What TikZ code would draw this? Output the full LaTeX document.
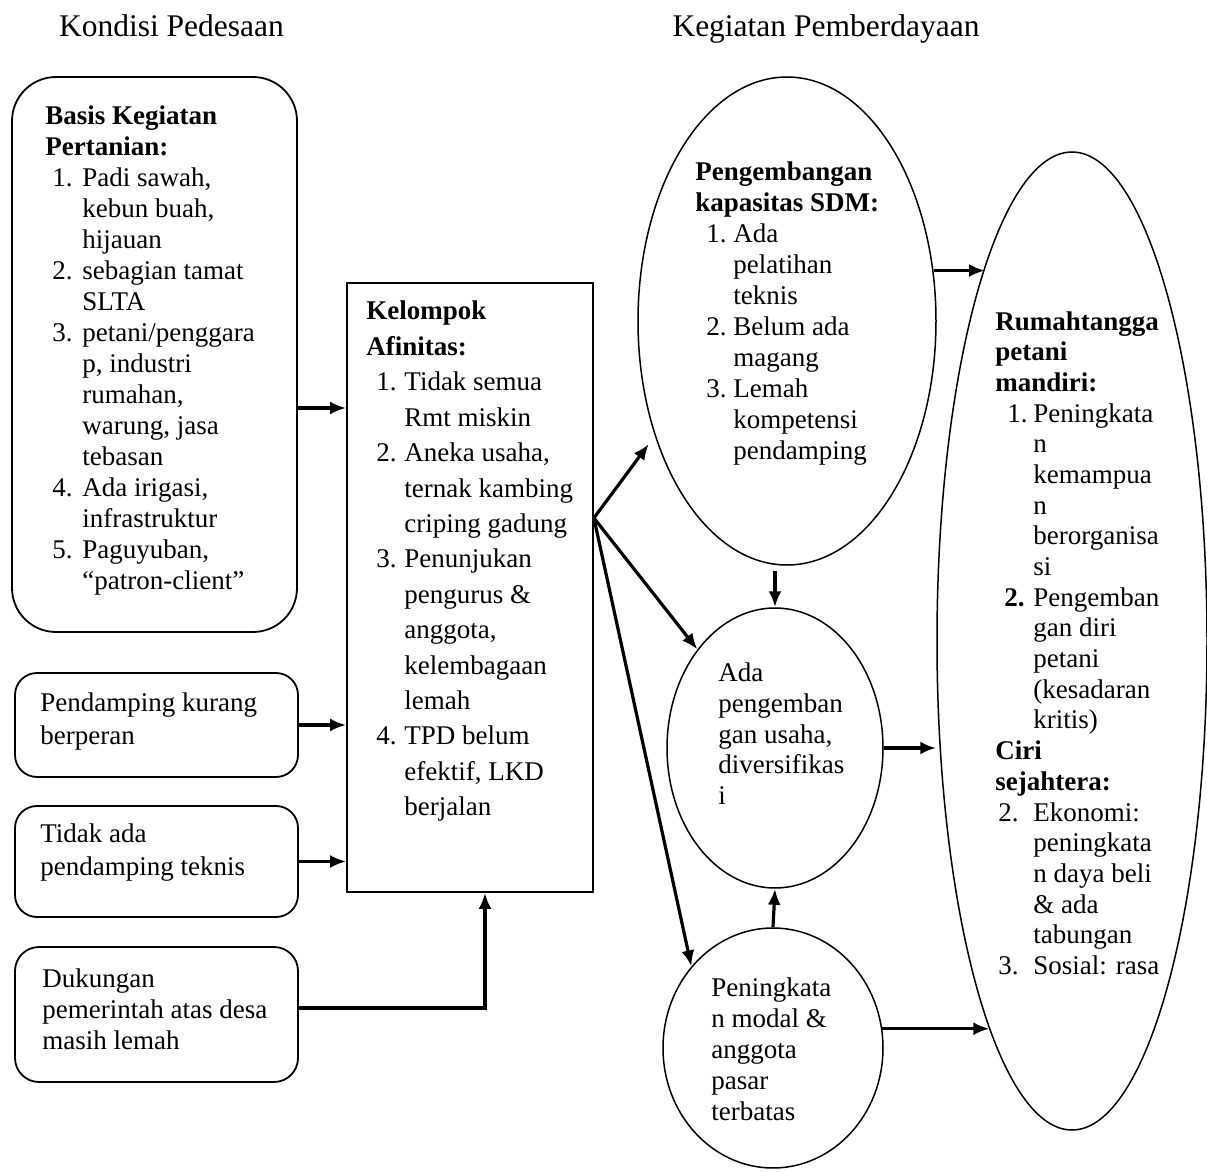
\documentclass[tikz,border=0pt]{standalone}
\usepackage{fontspec}
\setmainfont{Liberation Serif}
\usetikzlibrary{arrows.meta,shapes.geometric}
\newcommand{\hd}[1]{\multicolumn{2}{@{}l@{}}{\textbf{#1}}}
\begin{document}
\begin{tikzpicture}[x=0.5pt, y=-0.5pt,
        font = \fontsize{13.5}{15.5}\selectfont,
        kotak/.style = {draw, line width = 0.9pt, inner sep = 0pt},
        elips/.style = {draw, ellipse, line width = 0.75pt, inner sep = 0pt},
        teks/.style = {anchor = base west, inner sep = 0pt},
        judul/.style = {anchor = base, inner sep = 0pt, font = \fontsize{15.75}{18}\selectfont},
        panah/.style = {-{Latex[length = 8pt, width = 6.5pt]}, line width = 1.6pt}
    ]
    \useasboundingbox (0,0) rectangle (1207,1172);

    \node[judul] (t1) at (171.5,37) {Kondisi Pedesaan};
    \node[judul] (t2) at (826,37) {Kegiatan Pemberdayaan};

    % kondisi pedesaan
    \node[kotak, rounded corners = 22pt, minimum width = 142.5pt, minimum height = 277.5pt] (b1) at (154.5,354.5) {};
    \node[kotak, rounded corners = 11pt, minimum width = 141.5pt, minimum height = 52pt] (b2) at (156.5,725) {};
    \node[kotak, rounded corners = 11pt, minimum width = 141.5pt, minimum height = 55.5pt] (b3) at (156.5,861.5) {};
    \node[kotak, rounded corners = 12pt, minimum width = 141.5pt, minimum height = 67.5pt] (b4) at (156.5,1014.5) {};
    \node[kotak, minimum width = 123pt, minimum height = 304.5pt] (kel) at (470,587.5) {};

    \node[teks] (tb1) at (45,125) {\begin{tabular}[t]{@{\hspace{3.5pt}}l@{\hspace{4.9pt}}l@{}}
        \hd{Basis Kegiatan}\\
        \hd{Pertanian:}\\
        1. & Padi sawah,\\
           & kebun buah,\\
           & hijauan\\
        2. & sebagian tamat\\
           & SLTA\\
        3. & petani/penggara\\
           & p, industri\\
           & rumahan,\\
           & warung, jasa\\
           & tebasan\\
        4. & Ada irigasi,\\
           & infrastruktur\\
        5. & Paguyuban,\\
           & “patron-client”
    \end{tabular}};
    \node[teks] (tb2) at (40,711) {\renewcommand{\arraystretch}{1.065}\begin{tabular}[t]{@{}l@{}}
        Pendamping kurang\\ berperan
    \end{tabular}};
    \node[teks] (tb3) at (40,842) {\renewcommand{\arraystretch}{1.065}\begin{tabular}[t]{@{}l@{}}
        Tidak ada\\ pendamping teknis
    \end{tabular}};
    \node[teks] (tb4) at (42,987) {\begin{tabular}[t]{@{}l@{}}
        Dukungan\\ pemerintah atas desa\\ masih lemah
    \end{tabular}};
    \node[teks] (tkel) at (366,320) {\renewcommand{\arraystretch}{1.142}\begin{tabular}[t]{@{\hspace{5pt}}l@{\hspace{3.9pt}}l@{}}
        \hd{Kelompok}\\
        \hd{Afinitas:}\\
        1. & Tidak semua\\
           & Rmt miskin\\
        2. & Aneka usaha,\\
           & ternak kambing\\
           & criping gadung\\
        3. & Penunjukan\\
           & pengurus \&\\
           & anggota,\\
           & kelembagaan\\
           & lemah\\
        4. & TPD belum\\
           & efektif, LKD\\
           & berjalan
    \end{tabular}};

    % kegiatan pemberdayaan
    \node[elips, minimum width = 149pt, minimum height = 244pt] (e1) at (787,321) {};
    \node[elips, minimum width = 108pt, minimum height = 140pt] (c2) at (775,748) {};
    \node[elips, minimum width = 110pt, minimum height = 120pt] (c3) at (773,1048) {};
    \node[elips, minimum width = 135pt, minimum height = 489pt] (rm) at (1072,641) {};

    \node[teks] (te1) at (695,181) {\begin{tabular}[t]{@{\hspace{5.5pt}}l@{\hspace{3.4pt}}l@{}}
        \hd{Pengembangan}\\
        \hd{kapasitas SDM:}\\
        1. & Ada\\
           & pelatihan\\
           & teknis\\
        2. & Belum ada\\
           & magang\\
        3. & Lemah\\
           & kompetensi\\
           & pendamping
    \end{tabular}};
    \node[teks] (tc2) at (718,681) {\begin{tabular}[t]{@{}l@{}}
        Ada\\ pengemban\\ gan usaha,\\ diversifikas\\ i
    \end{tabular}};
    \node[teks] (tc3) at (711,996) {\begin{tabular}[t]{@{}l@{}}
        Peningkata\\ n modal \&\\ anggota\\ pasar\\ terbatas
    \end{tabular}};
    \node[teks] (trm) at (995,330) {\renewcommand{\arraystretch}{0.99}\begin{tabular}[t]{@{}l@{\hspace{2.9pt}}l@{}}
        \hd{Rumahtangga}\\
        \hd{petani}\\
        \hd{mandiri:}\\
        \hspace*{6pt}1. & Peningkata\\
           & n\\
           & kemampua\\
           & n\\
           & berorganisa\\
           & si\\
        \hspace*{4.5pt}\textbf{2.} & Pengemban\\
           & gan diri\\
           & petani\\
           & (kesadaran\\
           & kritis)\\
        \hd{Ciri}\\
        \hd{sejahtera:}\\
        \hspace*{1.5pt}2. & Ekonomi:\\
           & peningkata\\
           & n daya beli\\
           & \& ada\\
           & tabungan\\
        \hspace*{1.5pt}3. & Sosial: rasa
    \end{tabular}};

    % panah
    \coordinate (kx) at (kel.east |- 0,518);
    \coordinate (k4) at (485,1008);
    \draw[panah] (b1.east |- 0,408) -- (kel.west |- 0,408);
    \draw[panah] (b2.east) -- (kel.west |- b2.east);
    \draw[panah] (b3.east) -- (kel.west |- b3.east);
    \draw[panah] (b4.east |- k4) -- (k4) -- (kel.south -| k4);

    \draw[panah, shorten >= 5pt] (kx) -- (e1.221);
    \draw[panah] (kx) -- (c2);
    \draw[panah] (kx) -- (c3.135);
    \draw[panah, shorten <= 2.5pt] (e1.south -| c2.north) -- (c2.north);
    \draw[panah] (c3.north) -- (c2.south);

    \draw[panah] (e1.19) -- (e1.19 -| rm.103);
    \draw[panah] (c2.east) -- (c2.east -| rm.west);
    \draw[panah] (c3.10) -- (c3.10 -| rm.258);
\end{tikzpicture}
\end{document}
